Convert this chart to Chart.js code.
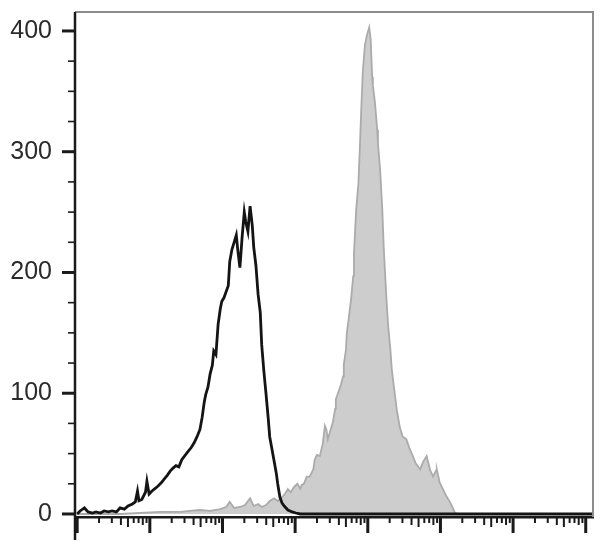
<!DOCTYPE html>
<html>
<head>
<meta charset="utf-8">
<script src="https://cdn.jsdelivr.net/npm/chart.js@4"></script>
<style>
  html, body { margin: 0; padding: 0; background: #fff; }
  #wrap { width: 608px; height: 545px; position: relative; }
</style>
</head>
<body>
<div id="wrap"><canvas id="myChart"></canvas></div>
<script>
// x values are log10 decades of fluorescence, y values are event counts

var blackX = [0, 0.04, 0.1, 0.15, 0.21, 0.26, 0.32, 0.37, 0.43, 0.48, 0.54, 0.59, 0.65, 0.7, 0.76, 0.8, 0.83, 0.85, 0.89, 0.94, 0.96, 0.99,
    1.03, 1.07, 1.11, 1.16, 1.2, 1.24, 1.28, 1.32, 1.36, 1.4, 1.44, 1.49, 1.53, 1.57, 1.61, 1.65, 1.69, 1.72, 1.75, 1.77, 1.8, 1.83, 1.86, 1.88,
    1.91, 1.94, 1.97, 1.99, 2.02, 2.05, 2.08, 2.1, 2.13, 2.16, 2.19, 2.21, 2.24, 2.27, 2.3, 2.32, 2.35, 2.38, 2.41, 2.43, 2.46, 2.49, 2.52, 2.54,
    2.57, 2.6, 2.63, 2.65, 2.68, 2.71, 2.74, 2.76, 2.79, 2.82, 2.85, 2.9, 2.96, 3.01, 3.07, 7.1];
var blackY = [0, 2.5, 5, 1.7, 0.8, 1.7, 0.8, 2.5, 1.7, 2.5, 1.7, 5, 4, 6.6, 8.3, 10, 19, 11, 12, 18, 27, 16.5,
    19, 21, 23, 26, 29, 32, 35.5, 38, 40, 39, 45, 49, 52, 55, 59, 64, 70, 80, 93, 99, 105, 116, 123, 135,
    132, 157, 170, 176, 179, 184, 189, 209, 219, 225, 231, 219, 204, 229, 250, 242, 234, 255, 239, 221, 206, 182, 167, 140,
    118, 99, 79, 64, 54, 44, 34, 25, 14, 9, 6.6, 3.3, 1.7, 0.8, 0, 0];

var grayX = [0, 0.59, 0.87, 1.14, 1.42, 1.55, 1.69, 1.83, 1.97, 2.05, 2.1, 2.16, 2.24, 2.31, 2.38, 2.43, 2.49, 2.54, 2.6, 2.65, 2.71, 2.76,
    2.82, 2.86, 2.9, 2.94, 2.98, 3.03, 3.07, 3.09, 3.12, 3.16, 3.2, 3.25, 3.27, 3.3, 3.34, 3.38, 3.41, 3.43, 3.45, 3.49, 3.52, 3.55, 3.56,
    3.59, 3.63, 3.66, 3.67, 3.7, 3.71, 3.74, 3.77, 3.8, 3.81, 3.84, 3.87, 3.89, 3.91, 3.93, 3.96, 3.99, 4.02, 4.04, 4.06, 4.07, 4.1, 4.13,
    4.14, 4.17, 4.2, 4.22, 4.24, 4.26, 4.28, 4.31, 4.33, 4.36, 4.4, 4.44, 4.48, 4.53, 4.57, 4.62, 4.66, 4.72, 4.76, 4.81, 4.86, 4.9, 4.94,
    4.95, 4.99, 5.03, 5.08, 5.13, 5.17, 5.2, 5.24, 7.1];
var grayY = [0, 0, 0.8, 1.7, 1.7, 2.5, 3.3, 2.5, 4, 5.8, 10, 5, 5.8, 7.4, 13, 6.6, 8.3, 5.8, 7.4, 10.7, 13, 10.7,
    14, 16.5, 20.6, 18, 22, 25, 21, 24, 25, 31, 31, 37, 45, 49, 48, 58, 73, 70, 62, 70, 76, 87, 95,
    100, 107, 114, 124, 136, 149, 163, 178, 197, 216, 252, 273, 302, 335, 365, 388, 397, 403, 393, 362, 355, 340, 318,
    307, 285, 252, 220, 197, 175, 156, 137, 120, 105, 86, 72, 64, 62, 55, 48, 42, 37, 43, 48, 36, 31, 36,
    37, 26, 21, 15, 10, 5, 1, 0, 0];

var yTickLabels = [0, 100, 200, 300, 400];
var decades = [0, 1, 2, 3, 4, 5, 6, 7];

function toPoints(xs, ys) {
    return xs.map(function(x, i) { return { x: x, y: ys[i] }; });
}

// axis ticks, box lines
var axisDecor = {
    id: 'axisDecor',
    afterDraw: function(chart) {
        var ctx = chart.ctx;
        var xs = chart.scales.x;
        var ys = chart.scales.y;
        var area = chart.chartArea;
        ctx.save();
        ctx.lineCap = 'butt';

        // top and right frame
        ctx.strokeStyle = '#8c8c8c';
        ctx.lineWidth = 2;
        ctx.beginPath();
        ctx.moveTo(area.left, area.top);
        ctx.lineTo(area.right, area.top);
        ctx.lineTo(area.right, area.bottom);
        ctx.stroke();

        ctx.strokeStyle = '#1a1a1a';
        // left spine running below the x axis
        ctx.lineWidth = 2.5;
        ctx.beginPath();
        ctx.moveTo(area.left, area.top);
        ctx.lineTo(area.left, 540);
        ctx.stroke();

        // y ticks
        for (var v = 0; v <= 400; v += 25) {
            var py = ys.getPixelForValue(v);
            var major = v % 100 === 0;
            ctx.lineWidth = major ? 3 : 1.6;
            ctx.beginPath();
            ctx.moveTo(area.left - (major ? 13 : 7), py);
            ctx.lineTo(area.left, py);
            ctx.stroke();
        }

        // x ticks
        decades.forEach(function(d) {
            var px = xs.getPixelForValue(d);
            ctx.lineWidth = 3;
            ctx.beginPath();
            ctx.moveTo(px, area.bottom);
            ctx.lineTo(px, area.bottom + 16);
            ctx.stroke();
            for (var k = 2; k <= 9; k++) {
                var dv = d + Math.log10(k);
                if (dv > xs.max) break;
                var mx = xs.getPixelForValue(dv);
                var len = k === 5 ? 10 : (k === 4 || k === 8 ? 8 : 6);
                ctx.lineWidth = 2;
                ctx.beginPath();
                ctx.moveTo(mx, area.bottom);
                ctx.lineTo(mx, area.bottom + len);
                ctx.stroke();
            }
        });
        ctx.restore();
    }
};

var ctx = document.getElementById('myChart').getContext('2d');
var myChart = new Chart(ctx, {
    type: 'line',
    data: {
        datasets: [
            {
                label: 'control',
                data: toPoints(blackX, blackY),
                borderColor: '#141414',
                borderWidth: 2.8,
                pointRadius: 0,
                fill: false,
                tension: 0
            },
            {
                label: 'stained',
                data: toPoints(grayX, grayY),
                borderColor: '#ababab',
                borderWidth: 1.8,
                backgroundColor: '#cdcdcd',
                pointRadius: 0,
                fill: 'origin',
                tension: 0
            }
        ]
    },
    options: {
        responsive: true,
        maintainAspectRatio: false,
        animation: false,
        events: [],
        layout: { padding: { top: 12, right: 15, left: 0, bottom: 0 } },
        plugins: {
            legend: { display: false },
            tooltip: { enabled: false }
        },
        scales: {
            x: {
                type: 'linear',
                min: -0.03,
                max: 7.1,
                grid: { display: false, drawTicks: false },
                border: { display: true, color: '#1a1a1a', width: 2.5 },
                ticks: { display: false },
                afterFit: function(scale) {
                    scale.height = 28;
                    scale.paddingLeft = 0;
                    scale.paddingRight = 0;
                }
            },
            y: {
                type: 'linear',
                min: -2.5,
                max: 415.7,
                grid: { display: false, drawTicks: false },
                border: { display: false },
                afterBuildTicks: function(scale) {
                    scale.ticks = yTickLabels.map(function(v) { return { value: v }; });
                },
                ticks: {
                    padding: 23,
                    color: '#2b2b2b',
                    font: { family: 'Liberation Sans', size: 25 }
                },
                afterFit: function(scale) {
                    scale.width = 75;
                    scale.paddingTop = 0;
                    scale.paddingBottom = 0;
                }
            }
        }
    },
    plugins: [axisDecor]
});
</script>
</body>
</html>
